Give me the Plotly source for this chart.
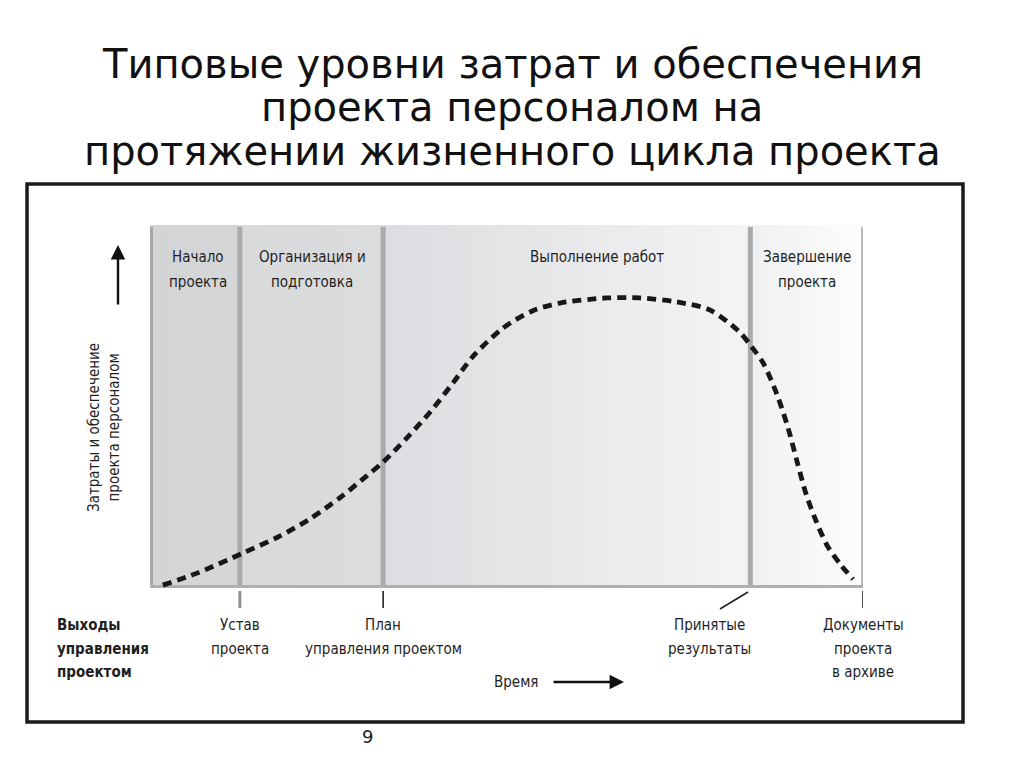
import plotly.graph_objects as go

# ---------------- data ----------------
title_lines = ["Типовые уровни затрат и обеспечения",
               "проекта персоналом на",
               "протяжении жизненного цикла проекта"]

phase_names = ["Начало<br>проекта", "Организация и<br>подготовка",
               "Выполнение работ", "Завершение<br>проекта"]
phase_bounds = [0, 12.6, 32.7, 84.2, 100]          # time units
phase_colors = [("#d3d4d6", "#d5d6d8"), ("#d9dadc", "#dbdcde"),
                ("#dcdde0", "#f4f4f5"), ("#eff0f1", "#fdfdfd")]

milestones = ["Устав<br>проекта", "План<br>управления проектом",
              "Принятые<br>результаты", "Документы<br>проекта<br>в архиве"]
outputs_label = "Выходы<br>управления<br>проектом"

# staffing / cost curve (time, level)
curve_t = [1.8, 6.6, 13.0, 18.2, 22.4, 26.6, 30.4, 32.7, 36.0, 39.3, 42.5, 45.3,
           49.5, 53.7, 57.5, 64.1, 68.7, 73.9, 78.5, 82.7, 84.4, 86.0, 87.9,
           89.5, 90.8, 92.0, 93.2, 95.0, 96.8, 98.6]
curve_v = [0.8, 4.1, 9.6, 14.3, 19.0, 24.8, 30.9, 34.7, 41.3, 48.5, 56.5, 63.8,
           71.6, 76.4, 78.5, 79.9, 79.9, 78.8, 76.6, 70.5, 66.4, 62.0, 53.5,
           44.0, 34.5, 26.0, 19.5, 11.6, 6.6, 2.4]

y_top = 100

LBL = "DejaVu Sans Condensed, Liberation Sans Narrow, Arial Narrow, sans-serif"
TTL = "DejaVu Sans, Liberation Sans, Arial, sans-serif"
TXT = "#1f1f1f"
W, H = 1024, 768
OFF = 8   # page body margin


def X(px):
    return (px - OFF) / W


def Y(py):
    return 1 - (py - OFF) / H


fig = go.Figure()

# phase backgrounds
for i in range(4):
    a, b = phase_bounds[i], phase_bounds[i + 1]
    c1, c2 = phase_colors[i]
    fig.add_trace(go.Scatter(
        x=[a, b, b, a, a], y=[0, 0, y_top, y_top, 0], mode="lines",
        line=dict(width=0), fill="toself",
        fillgradient=dict(type="horizontal", colorscale=[[0, c1], [1, c2]],
                          start=a, stop=b),
        hoverinfo="skip", showlegend=False))

# panel borders / separators
sep_styles = [("#a6a7a9", 6), ("#a9aaac", 5), ("#a9aaac", 5), ("#a9aaac", 5), ("#babbbd", 4)]
for b, (col, w) in zip(phase_bounds, sep_styles):
    fig.add_trace(go.Scatter(x=[b, b], y=[0, y_top * 0.995], mode="lines",
                             line=dict(color=col, width=w),
                             hoverinfo="skip", showlegend=False))
fig.add_trace(go.Scatter(x=[phase_bounds[0], phase_bounds[-1]], y=[0, 0], mode="lines",
                         line=dict(color="#aeafb1", width=6),
                         hoverinfo="skip", showlegend=False))

# curve
fig.add_trace(go.Scatter(x=curve_t, y=curve_v, mode="lines",
                         line=dict(color="#181818", width=4.8, dash="9px,6px",
                                   shape="spline", smoothing=0.8),
                         hoverinfo="skip", showlegend=False))

shapes = []
# tick marks under milestones
tick_styles = [("#8f9092", 3), ("#222", 1.6), None, ("#222", 1.6)]
for b, st in zip(phase_bounds[1:], tick_styles):
    if st is None:
        continue
    shapes.append(dict(type="line", xref="x", yref="paper", x0=b, x1=b,
                       y0=Y(591), y1=Y(608), line=dict(color=st[0], width=st[1])))
# diagonal leader for accepted results
shapes.append(dict(type="line", xref="paper", yref="paper",
                   x0=X(748), y0=Y(592), x1=X(720), y1=Y(609),
                   line=dict(color="#222", width=1.6)))
# outer frame
shapes.append(dict(type="rect", xref="paper", yref="paper",
                   x0=X(27), y0=Y(184), x1=X(963), y1=Y(722),
                   line=dict(color="#1a1a1a", width=3.5)))

ann = []


def add_lines(text, px, py0, step, anchor="center", bold=False, size=15):
    for k, line in enumerate(text.split("<br>")):
        t = f"<b>{line}</b>" if bold else line
        ann.append(dict(text=t, x=X(px), y=Y(py0 + k * step), xref="paper", yref="paper",
                        showarrow=False, xanchor=anchor, yanchor="middle",
                        font=dict(family=LBL, size=size, color=TXT)))


# title
for line, py in zip(title_lines, [64, 107, 151]):
    ann.append(dict(text=line, x=X(512), y=Y(py), xref="paper", yref="paper",
                    showarrow=False, xanchor="center", yanchor="middle",
                    font=dict(family=TTL, size=40, color="#111")))

# phase labels
for name, px in zip(phase_names, [198, 312, 597, 807]):
    add_lines(name, px, 257, 25)

# milestone labels
for name, px in zip(milestones, [240, 383, 709, 863]):
    add_lines(name, px, 625, 23.5)

# outputs heading
add_lines(outputs_label, 55, 625, 23.5, anchor="left", bold=True)

# y-axis label and arrow
ann.append(dict(text="Затраты и обеспечение<br>проекта персоналом", x=X(104), y=Y(428),
                xref="paper", yref="paper", showarrow=False, textangle=-90,
                xanchor="center", yanchor="middle",
                font=dict(family=LBL, size=15, color=TXT)))
ann.append(dict(text="", x=X(118), y=Y(245), ax=0, ay=61, xref="paper", yref="paper",
                axref="pixel", ayref="pixel", showarrow=True, arrowhead=2,
                arrowsize=1.2, arrowwidth=2.4, arrowcolor="#111"))

# time label and arrow
add_lines("Время", 516, 682, 0)
ann.append(dict(text="", x=X(624), y=Y(682), ax=-72, ay=0, xref="paper", yref="paper",
                axref="pixel", ayref="pixel", showarrow=True, arrowhead=2,
                arrowsize=1.2, arrowwidth=2.4, arrowcolor="#111"))

# page number
ann.append(dict(text="9", x=X(367), y=Y(736), xref="paper", yref="paper",
                showarrow=False, xanchor="center", yanchor="middle",
                font=dict(family=TTL, size=18, color="#222")))

fig.update_layout(
    width=W, height=H, margin=dict(l=0, r=0, t=0, b=0),
    paper_bgcolor="white", plot_bgcolor="rgba(0,0,0,0)",
    xaxis=dict(domain=[X(150), X(863)], range=[0, 100], visible=False, fixedrange=True),
    yaxis=dict(domain=[Y(588), Y(225)], range=[0, 100], visible=False, fixedrange=True),
    shapes=shapes, annotations=ann, showlegend=False)

fig.write_html("out.html")
